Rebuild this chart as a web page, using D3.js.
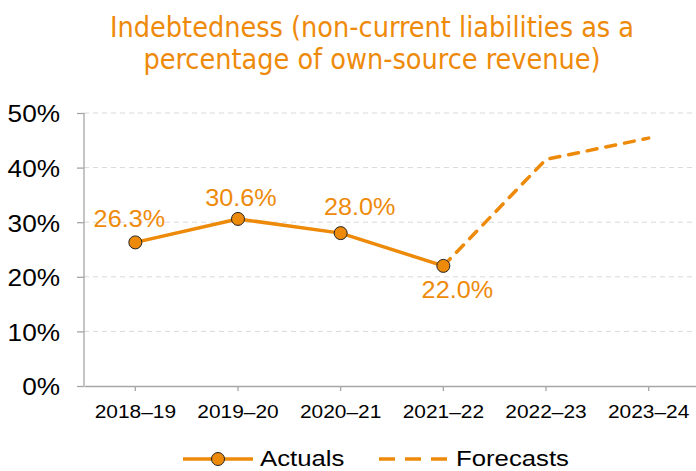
<!DOCTYPE html>
<html>
<head>
<meta charset="utf-8">
<script src="https://cdn.jsdelivr.net/npm/d3@7"></script>
<style>
  body { margin: 0; background: #fff; }
  svg { display: block; }
</style>
</head>
<body>
<div class="chart"></div>
<script>
// --- data -------------------------------------------------------------
var years = ["2018–19", "2019–20", "2020–21", "2021–22", "2022–23", "2023–24"];
var actuals = [26.3, 30.6, 28.0, 22.0, null, null];
var forecasts = [null, null, null, 22.0, 41.5, 45.4];
var yTicks = [0, 10, 20, 30, 40, 50];
var titleLines = ["Indebtedness (non-current liabilities as a", "percentage of own-source revenue)"];

// label nudges (px) for the actuals data labels
var labelDx = [-6, 3, 19, 14];
var labelDy = [-15, -13, -18, 32];

var orange = "#EE8A0A";
var font = "Liberation Sans, Arial, sans-serif";
var width = 696, height = 471;
var margin = {top: 113, left: 84, bottom: 85, right: -4};

// widen a text selection horizontally (reference text is a bit stretched)
function stretch(sel, k, x) {
    sel.attr("x", x / k).attr("transform", "scale(" + k + ",1)");
}

var svg = d3.select(".chart").append("svg")
    .attr("width", width)
    .attr("height", height);

// title
svg.append("g").selectAll("text")
    .data(titleLines)
    .enter().append("text")
    .attr("x", 372)
    .attr("y", function(d, i) { return 37 + i * 31.5; })
    .attr("text-anchor", "middle")
    .attr("font-family", "DejaVu Sans Condensed, sans-serif")
    .attr("font-size", 28.5)
    .attr("fill", orange)
    .text(function(d) { return d; });

var x = d3.scaleBand()
    .domain(years)
    .range([margin.left, width - margin.right]);

var y = d3.scaleLinear()
    .domain([0, 50])
    .range([height - margin.bottom, margin.top]);

// gridlines
svg.append("g").selectAll("line")
    .data(yTicks.slice(1))
    .enter().append("line")
    .attr("x1", margin.left)
    .attr("x2", width)
    .attr("y1", function(d) { return y(d); })
    .attr("y2", function(d) { return y(d); })
    .attr("stroke", "#d9d9d9")
    .attr("stroke-width", 1)
    .attr("stroke-dasharray", "5,4");

// y axis
var yAxis = svg.append("g")
    .attr("transform", "translate(" + margin.left + ",0)")
    .call(d3.axisLeft(y).tickValues(yTicks).tickSize(7).tickFormat(function(d) { return d + "%"; }));
yAxis.select(".domain").attr("stroke", "#a6a6a6").attr("stroke-width", 1.3).attr("d", "M0," + y(0) + "V" + y(50));
yAxis.selectAll(".tick line").attr("stroke", "#a6a6a6").attr("stroke-width", 1.3);
yAxis.selectAll(".tick text")
    .attr("dy", "0.36em")
    .attr("font-family", font)
    .attr("font-size", 24.5)
    .attr("fill", "#000")
    .call(stretch, 1.07, -24);

// x axis
var xAxis = svg.append("g")
    .attr("transform", "translate(0," + y(0) + ")")
    .call(d3.axisBottom(x).tickSize(5).tickSizeOuter(0));
xAxis.select(".domain").attr("stroke", "#a6a6a6").attr("stroke-width", 1.3);
xAxis.selectAll(".tick line").attr("stroke", "#a6a6a6").attr("stroke-width", 1.3);
xAxis.selectAll(".tick text")
    .attr("y", 32)
    .attr("dy", 0)
    .attr("font-family", font)
    .attr("font-size", 19)
    .attr("fill", "#000")
    .call(stretch, 1.1, 0);

var cx = function(d, i) { return x(years[i]) + x.bandwidth() / 2; };

var line = d3.line()
    .defined(function(d) { return d != null; })
    .x(cx)
    .y(function(d) { return y(d); });

// forecasts (dashed)
svg.append("path")
    .datum(forecasts)
    .attr("d", line)
    .attr("fill", "none")
    .attr("stroke", orange)
    .attr("stroke-width", 3.5)
    .attr("stroke-dasharray", "10,9")
    .attr("stroke-linejoin", "round")
    .attr("stroke-linecap", "round");

// actuals (solid)
svg.append("path")
    .datum(actuals)
    .attr("d", line)
    .attr("fill", "none")
    .attr("stroke", orange)
    .attr("stroke-width", 3.5)
    .attr("stroke-linejoin", "round");

var pts = actuals.map(function(v, i) { return {v: v, i: i}; })
    .filter(function(d) { return d.v != null; });

svg.append("g").selectAll("circle")
    .data(pts)
    .enter().append("circle")
    .attr("cx", function(d) { return cx(d.v, d.i); })
    .attr("cy", function(d) { return y(d.v); })
    .attr("r", 6.5)
    .attr("fill", orange)
    .attr("stroke", "#222")
    .attr("stroke-width", 1);

svg.append("g").selectAll("text")
    .data(pts)
    .enter().append("text")
    .attr("y", function(d) { return y(d.v) + labelDy[d.i]; })
    .attr("text-anchor", "middle")
    .attr("font-family", font)
    .attr("font-size", 24)
    .attr("fill", orange)
    .text(function(d) { return d.v.toFixed(1) + "%"; })
    .each(function(d) {
        d3.select(this).call(stretch, 1.05, cx(d.v, d.i) + labelDx[d.i]);
    });

// legend
var lg = svg.append("g").attr("transform", "translate(0,459)");
lg.append("line").attr("x1", 183).attr("x2", 253).attr("y1", 0).attr("y2", 0)
    .attr("stroke", orange).attr("stroke-width", 3.5);
lg.append("circle").attr("cx", 218).attr("cy", 0).attr("r", 6.5)
    .attr("fill", orange).attr("stroke", "#222").attr("stroke-width", 1);
lg.append("text").attr("y", 7)
    .attr("font-family", font).attr("font-size", 22)
    .text("Actuals")
    .call(stretch, 1.17, 260);
lg.append("line").attr("x1", 379).attr("x2", 449).attr("y1", 0).attr("y2", 0)
    .attr("stroke", orange).attr("stroke-width", 3.5).attr("stroke-dasharray", "16,10");
lg.append("text").attr("y", 7)
    .attr("font-family", font).attr("font-size", 22)
    .text("Forecasts")
    .call(stretch, 1.17, 456);
</script>
</body>
</html>
